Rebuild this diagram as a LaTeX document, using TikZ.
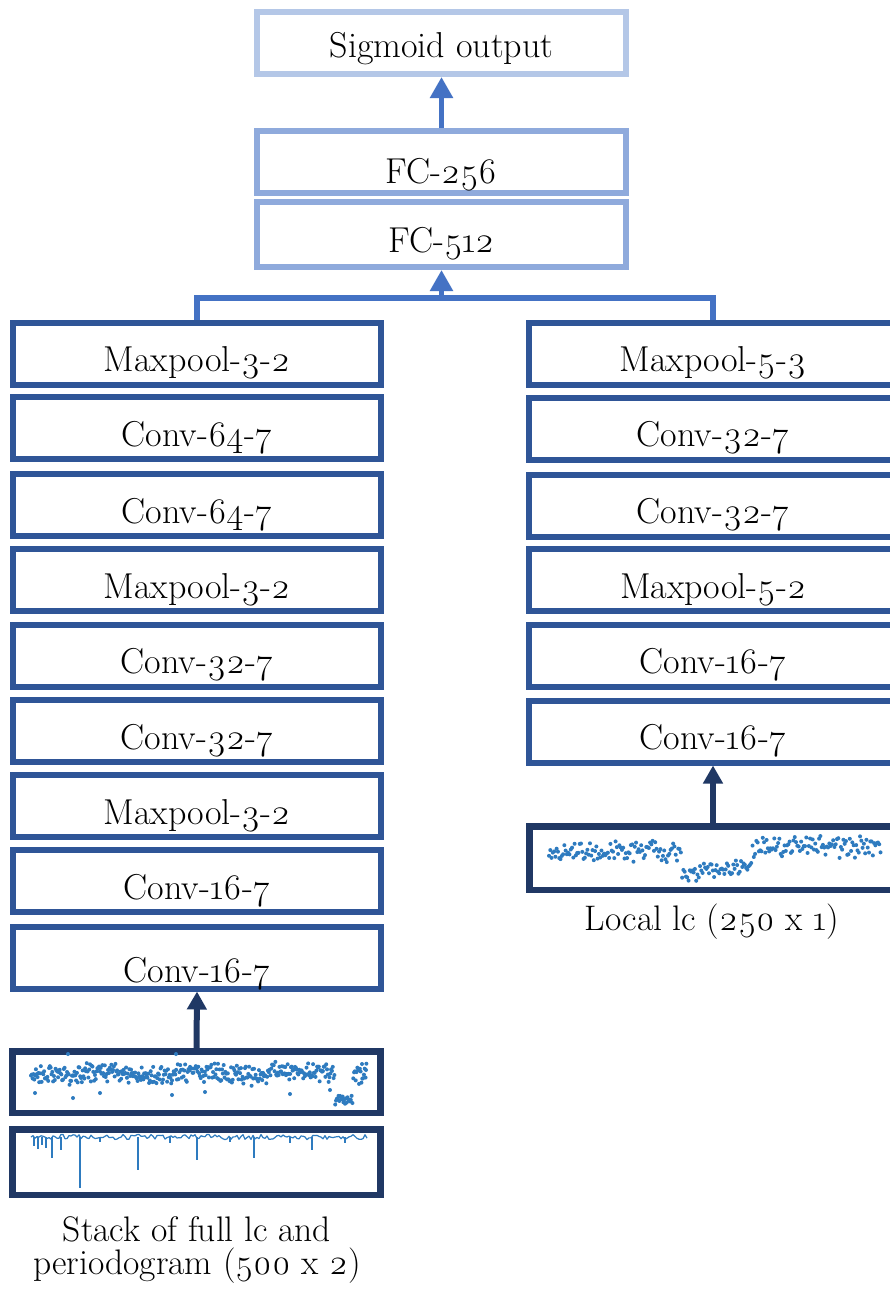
\documentclass[tikz,border=0pt]{standalone}
\usepackage{fontspec}
\setmainfont{Latin Modern Roman}[Numbers=OldStyle]
\usetikzlibrary{arrows.meta}
\definecolor{sigc}{HTML}{B4C7E7}
\definecolor{fcc}{HTML}{8FAADC}
\definecolor{topc}{HTML}{4472C4}
\definecolor{convc}{HTML}{2F5597}
\definecolor{navy}{HTML}{203864}
\definecolor{dotc}{HTML}{2E7BBF}
\begin{document}
\begin{tikzpicture}[x=1pt,y=-1pt,
  blk/.style={draw=convc,line width=6pt,fill=white,inner sep=0pt,
    minimum width=368pt,minimum height=62pt,text depth=0pt,text height=36pt,
    font=\fontsize{36}{40}\selectfont},
  fcblk/.style={blk,draw=fcc,minimum width=369pt},
  plotbox/.style={draw=navy,line width=6.5pt,fill=white,inner sep=0pt,minimum width=368pt},
  lbl/.style={font=\fontsize{35.5}{32.6}\selectfont,inner sep=0pt},
  conn/.style={draw=topc,line width=5.5pt,line join=miter},
  arrtop/.style={draw=topc,fill=topc,line width=5.5pt,-{Triangle[width=22pt,length=21pt]}},
  arrnavy/.style={draw=navy,fill=navy,line width=6pt,-{Triangle[width=19pt,length=18pt]}}]
\useasboundingbox[fill=white] (0,0) rectangle (889,1290);

% top stack
\node[fcblk,draw=sigc,text height=30pt] (sig) at (441.5,43) {Sigmoid output};
\node[fcblk,text height=42pt] (fc256) at (441.5,162) {FC-256};
\node[fcblk,minimum height=65pt,text height=35pt] (fc512) at (441.5,234.5) {FC-512};

% left column
\node[blk] (L1) at (197,353.5) {Maxpool-3-2};
\node[blk] (L2) at (197,428) {Conv-64-7};
\node[blk] (L3) at (197,505) {Conv-64-7};
\node[blk] (L4) at (197,580) {Maxpool-3-2};
\node[blk] (L5) at (197,655.5) {Conv-32-7};
\node[blk] (L6) at (197,731) {Conv-32-7};
\node[blk] (L7) at (197,806) {Maxpool-3-2};
\node[blk] (L8) at (197,881) {Conv-16-7};
\node[blk,text height=50pt] (L9) at (197,957.5) {Conv-16-7};

% right column
\node[blk] (R1) at (713,353.5) {Maxpool-5-3};
\node[blk] (R2) at (713,428.5) {Conv-32-7};
\node[blk] (R3) at (713,505.5) {Conv-32-7};
\node[blk] (R4) at (713,580) {Maxpool-5-2};
\node[blk] (R5) at (713,655.5) {Conv-16-7};
\node[blk] (R6) at (713,731.5) {Conv-16-7};

% input plot boxes
\node[plotbox,minimum height=61.5pt] (lp1) at (196.5,1082) {};
\node[plotbox,minimum height=65.5pt] (lp2) at (196.5,1162) {};
\node[plotbox,minimum width=367pt,minimum height=63.5pt] (rp) at (713,858) {};

% labels
\node[lbl,align=center,anchor=base] (lblL) at (197,1274.5) {Stack of full lc and\\periodogram (500 x 2)};
\node[lbl,anchor=base] (lblR) at (712,930) {Local lc (250 x 1)};

% connectors
\coordinate (j) at (441.5,298);
\draw[conn] (L1.north) |- (j) -| (R1.north);
\draw[arrtop] (j) -- (fc512.south);
\draw[arrtop] (fc256.north) -- (sig.south);
\draw[arrnavy] (lp1.north) -- (L9.south);
\draw[arrnavy] (rp.north) -- (R6.south);

% full light curve scatter
\pgfmathsetseed{7}
\foreach \i in {0,...,409}{
  \pgfmathsetmacro\px{31+\i*0.82}
  \pgfmathsetmacro\py{ifthenelse(and(\px>335,\px<353),1100+5*rand,1073+2.5*sin(\i*3)+7*rand+5*rand)}
  \fill[dotc] (\px,\py) circle[radius=2pt];
}
\foreach \ox/\oy in {68/1054,176/1054,73/1098,35/1093,100/1093,172/1095,205/1092,290/1094,330/1090,362/1064,366/1070}
  \fill[dotc] (\ox,\oy) circle[radius=2pt];

% periodogram
\draw[dotc,line width=1.2pt,line join=round] (31,1137)
  \foreach \i in {1,...,168}{ -- ({31+\i*2},{1137+2.6*rand}) };
\foreach \sx/\sy in {34/1146,38/1149,42/1145,46/1148,52/1158,61/1150,80/1188,
  100/1142,138/1170,170/1143,197/1160,230/1142,254/1158,290/1143,312/1150,345/1143}
  \draw[dotc,line width=1.3pt] (\sx,1137) -- (\sx,\sy);

% local light curve scatter
\pgfmathsetseed{11}
\foreach \i in {0,...,259}{
  \pgfmathsetmacro\px{549+\i*1.28}
  \pgfmathsetmacro\py{ifthenelse(\px<682,851+7*rand+5*rand,ifthenelse(\px<752,874-(\px-682)*0.1+6*rand+3*rand,847+8*rand+5*rand))}
  \fill[dotc] (\px,\py) circle[radius=2pt];
}
\end{tikzpicture}
\end{document}
